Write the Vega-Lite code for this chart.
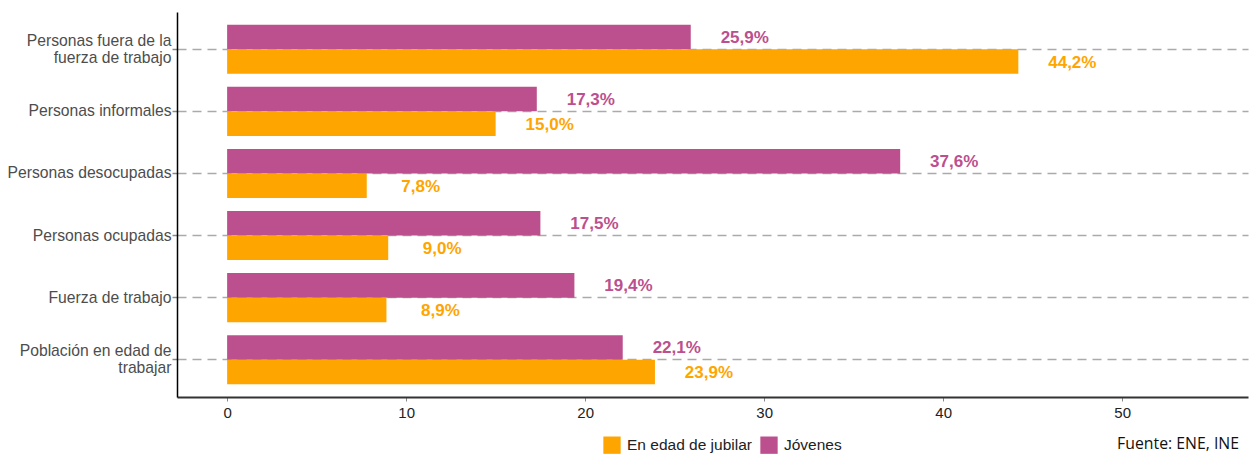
{
  "$schema": "https://vega.github.io/schema/vega-lite/v6.json",
  "autosize": {"type": "none"},
  "width": 1071,
  "height": 385,
  "padding": {"left": 177, "top": 12, "right": 5, "bottom": 57},
  "background": "white",
  "title": {
    "text": "Fuente: ENE, INE",
    "orient": "bottom",
    "anchor": "end",
    "frame": "group",
    "font": "Open Sans",
    "fontSize": 15.8,
    "fontWeight": "normal",
    "color": "#111111",
    "baseline": "top",
    "offset": -17,
    "dx": -9
  },
  "data": {
    "values": [
      {"categoria": "Personas fuera de la fuerza de trabajo", "grupo": "Jóvenes", "valor": 25.9, "etiqueta": "25,9%"},
      {"categoria": "Personas fuera de la fuerza de trabajo", "grupo": "En edad de jubilar", "valor": 44.2, "etiqueta": "44,2%"},
      {"categoria": "Personas informales", "grupo": "Jóvenes", "valor": 17.3, "etiqueta": "17,3%"},
      {"categoria": "Personas informales", "grupo": "En edad de jubilar", "valor": 15.0, "etiqueta": "15,0%"},
      {"categoria": "Personas desocupadas", "grupo": "Jóvenes", "valor": 37.6, "etiqueta": "37,6%"},
      {"categoria": "Personas desocupadas", "grupo": "En edad de jubilar", "valor": 7.8, "etiqueta": "7,8%"},
      {"categoria": "Personas ocupadas", "grupo": "Jóvenes", "valor": 17.5, "etiqueta": "17,5%"},
      {"categoria": "Personas ocupadas", "grupo": "En edad de jubilar", "valor": 9.0, "etiqueta": "9,0%"},
      {"categoria": "Fuerza de trabajo", "grupo": "Jóvenes", "valor": 19.4, "etiqueta": "19,4%"},
      {"categoria": "Fuerza de trabajo", "grupo": "En edad de jubilar", "valor": 8.9, "etiqueta": "8,9%"},
      {"categoria": "Población en edad de trabajar", "grupo": "Jóvenes", "valor": 22.1, "etiqueta": "22,1%"},
      {"categoria": "Población en edad de trabajar", "grupo": "En edad de jubilar", "valor": 23.9, "etiqueta": "23,9%"}
    ]
  },
  "encoding": {
    "y": {
      "field": "categoria",
      "type": "nominal",
      "sort": ["Personas fuera de la fuerza de trabajo", "Personas informales", "Personas desocupadas", "Personas ocupadas", "Fuerza de trabajo", "Población en edad de trabajar"],
      "scale": {"paddingInner": 0.21, "paddingOuter": 0.205},
      "axis": {
        "title": null,
        "bandPosition": 0.5,
        "grid": true,
        "gridDash": [9, 6],
        "gridColor": "#aaaaaa",
        "gridWidth": 1.5,
        "domainColor": "#000000",
        "domainWidth": 1.5,
        "tickColor": "#888888",
        "tickSize": 5,
        "tickWidth": 1.5,
        "labelPadding": 1,
        "labelFont": "Liberation Sans",
        "labelFontSize": 15.7,
        "labelColor": "#4d4d4d",
        "labelLineHeight": 17,
        "labelLimit": 300,
        "labelOffset": {"condition": {"test": "datum.value == 'Personas fuera de la fuerza de trabajo' || datum.value == 'Población en edad de trabajar'", "value": -8.5}, "value": 0},
        "labelExpr": "datum.value == 'Personas fuera de la fuerza de trabajo' ? ['Personas fuera de la', 'fuerza de trabajo'] : datum.value == 'Población en edad de trabajar' ? ['Población en edad de', 'trabajar'] : datum.value"
      }
    },
    "yOffset": {
      "field": "grupo",
      "type": "nominal",
      "sort": ["Jóvenes", "En edad de jubilar"]
    },
    "x": {
      "field": "valor",
      "type": "quantitative",
      "scale": {"domain": [-2.8, 57.03], "nice": false, "zero": false},
      "axis": {
        "title": null,
        "values": [0, 10, 20, 30, 40, 50],
        "grid": false,
        "domainColor": "#333333",
        "domainWidth": 2,
        "tickColor": "#888888",
        "tickSize": 4,
        "labelPadding": 4,
        "labelFont": "Liberation Sans",
        "labelFontSize": 15,
        "labelColor": "#222222"
      }
    },
    "color": {
      "field": "grupo",
      "type": "nominal",
      "scale": {"domain": ["En edad de jubilar", "Jóvenes"], "range": ["#FFA500", "#BC4F8E"]},
      "legend": {
        "title": null,
        "orient": "none",
        "direction": "horizontal",
        "legendX": 426,
        "legendY": 424,
        "symbolType": "square",
        "symbolSize": 300,
        "symbolStrokeWidth": 0,
        "labelFont": "Liberation Sans",
        "labelFontSize": 15.5,
        "labelColor": "#222222",
        "labelOffset": 6,
        "columnPadding": 8
      }
    }
  },
  "layer": [
    {"mark": {"type": "bar", "x": 0}, "encoding": {"x": {"field": "valor", "type": "quantitative"}, "x2": {"datum": 0}}},
    {
      "mark": {"type": "text", "align": "center", "baseline": "middle", "dx": 54, "dy": 1, "font": "Liberation Sans", "fontSize": 17, "fontWeight": "bold"},
      "encoding": {"text": {"field": "etiqueta"}}
    }
  ],
  "config": {"view": {"stroke": null}}
}
